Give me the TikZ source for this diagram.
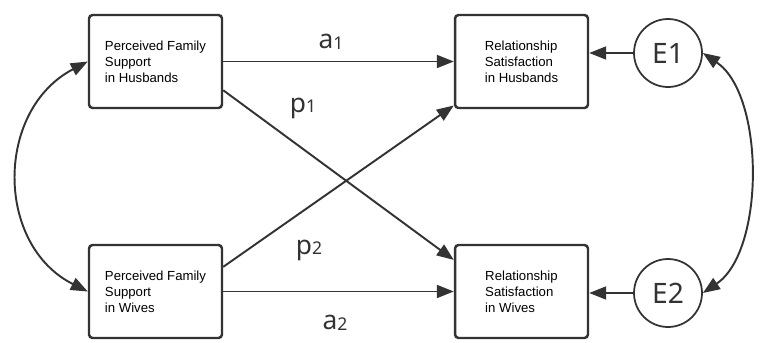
\documentclass[tikz,border=0pt]{standalone}
\usepackage{fontspec}
\setmainfont{Liberation Sans}
\newfontfamily\labelfont{Noto Sans}
\usetikzlibrary{arrows.meta}
\definecolor{diagramgrey}{HTML}{333333}

\begin{document}
\begin{tikzpicture}[x=0.02cm, y=-0.02cm,
    varbox/.style={draw=diagramgrey, line width=1.4pt, rounded corners=2pt, minimum width=2.66cm, minimum height=1.86cm, inner sep=0pt, align=left, font=\fontsize{7.5}{9}\selectfont},
    errcirc/.style={draw=diagramgrey, circle, line width=1pt, minimum size=1.36cm, inner sep=0pt, text=diagramgrey, font=\labelfont\fontsize{16}{16}\selectfont},
    effect/.style={draw=diagramgrey, line width=1.1pt, -{Triangle[length=3.4mm,width=2.6mm]}},
    covar/.style={draw=diagramgrey, line width=1.1pt, {Triangle[length=3.4mm,width=2.6mm]}-{Triangle[length=3.4mm,width=2.6mm]}},
    pathlabel/.style={text=diagramgrey, font=\labelfont\fontsize{15}{15}\selectfont}]
  \useasboundingbox (0,0) rectangle (763,342);
  \node[varbox] (fsh) at (155.5,61.5) {Perceived Family\\Support\\in Husbands};
  \node[varbox] (fsw) at (155.5,291.5) {Perceived Family\\Support\\in Wives};
  \node[varbox] (rsh) at (521.5,61.5) {Relationship\\Satisfaction\\in Husbands};
  \node[varbox] (rsw) at (521.5,291.5) {Relationship\\Satisfaction\\in Wives};
  \node[errcirc] (e1) at (668,53) {E1};
  \node[errcirc] (e2) at (668,293) {E2};
  \draw[effect] (fsh.east) -- (rsh.west);
  \draw[effect] (fsw.east) -- (rsw.west);
  \draw[effect] (fsh.-23) -- (rsw.155);
  \draw[effect] (fsw.20) -- (rsh.213);
  \draw[effect] (e1.west) -- (rsh.east |- e1.west);
  \draw[effect] (e2.west) -- (rsw.east |- e2.west);
  \draw[covar] (fsh.west) .. controls (-5,110) and (-5,245) .. (fsw.west);
  \draw[covar] (e1.east) .. controls (765,95) and (765,251) .. (e2.east);
  \node[pathlabel] (a1) at (331,42) {a{\fontsize{10}{10}\selectfont\raisebox{-0.5pt}{1}}};
  \node[pathlabel] (p1) at (303,108) {p{\fontsize{10}{10}\selectfont\raisebox{-0.5pt}{1}}};
  \node[pathlabel] (p2) at (309,250) {p{\fontsize{10}{10}\selectfont\raisebox{-0.5pt}{2}}};
  \node[pathlabel] (a2) at (335,323) {a{\fontsize{10}{10}\selectfont\raisebox{-0.5pt}{2}}};
\end{tikzpicture}
\end{document}
